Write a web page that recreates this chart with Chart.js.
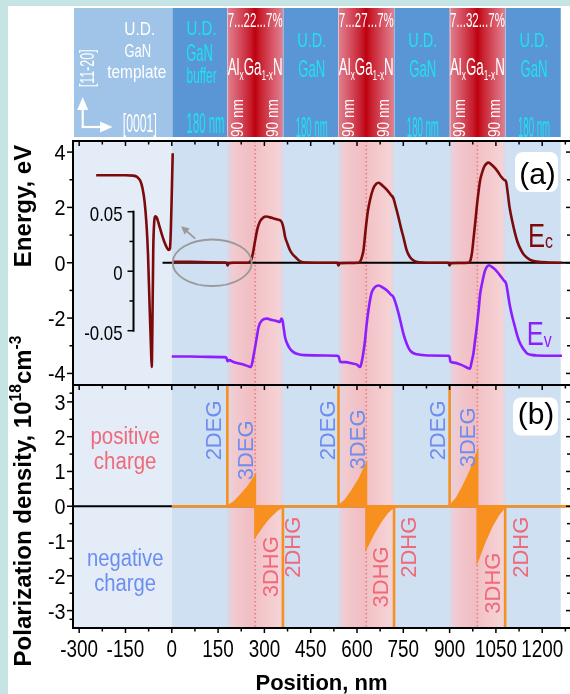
<!DOCTYPE html>
<html>
<head>
<meta charset="utf-8">
<script src="https://cdn.jsdelivr.net/npm/chart.js@4.4.1/dist/chart.umd.min.js"></script>
<style>
  html, body { margin: 0; padding: 0; background: #c6e4e4; }
  canvas { display: block; }
</style>
</head>
<body>
<canvas id="fig" width="570" height="694"></canvas>
<script>
// tick labels
const xTicks = [-300, -150, 0, 150, 300, 450, 600, 750, 900, 1050, 1200];
const eTicks = [4, 2, 0, -2, -4];
const pTicks = [3, 2, 1, 0, -1, -2, -3];
const insetTicks = [0.05, 0, -0.05];
const insetLabels = ['0.05', '0', '-0.05'];

// layer structure (nm)
const layerEdges = [0, 180, 360, 540, 720, 900, 1080, 1260];
const alganCenters = [270, 630, 990];
const alPercent = ['7...22...7%', '7...27...7%', '7...32...7%'];

// conduction band, left part (nm / eV)
const ecLeftNm = [-245, -200, -150, -125, -112, -102, -95, -88, -82, -77, -72, -67, -65, -62.5, -60, -57, -53, -49, -42, -33, -24, -16, -10, -6, -3, 0, 3];
const ecLeftEv = [3.16, 3.16, 3.16, 3.15, 3.1, 2.96, 2.7, 2.2, 1.4, 0.3, -1.5, -3.2, -3.77, -2.0, 0.5, 1.45, 1.68, 1.64, 1.4, 1.05, 0.75, 0.55, 0.46, 0.5, 1.2, 2.5, 3.96];

// conduction band, structure
const ecNm = [4, 60, 120, 172, 178, 181, 184, 200, 245, 252, 258, 263, 270, 278, 286, 296, 306, 318, 330, 342,
  352, 357, 362, 367, 375, 383, 392, 400, 416, 440, 500, 536, 540, 544, 570, 605, 612, 617, 621, 628,
  635, 642, 652, 662, 670, 683, 697, 710, 718, 726, 734, 742, 750, 761, 772, 785, 800, 860, 896, 900,
  904, 930, 962, 968, 973, 977, 983, 988, 994, 999, 1006, 1012, 1019, 1026, 1037, 1048, 1058, 1067, 1076, 1083,
  1088, 1094, 1103, 1112, 1120, 1129, 1140, 1150, 1166, 1182, 1220, 1264];
const ecEv = [0.03, 0.03, 0.02, 0.01, -0.02, -0.1, -0.02, 0, 0, 0.03, 0.12, 0.35, 0.8, 1.25, 1.5, 1.63, 1.67, 1.64, 1.6, 1.56,
  1.53, 1.45, 1.25, 0.94, 0.68, 0.45, 0.3, 0.21, 0.05, 0.01, 0, 0, -0.1, -0.02, -0.01, 0, 0.08, 0.25, 0.45, 1.2,
  1.85, 2.26, 2.66, 2.85, 2.89, 2.78, 2.63, 2.45, 2.33, 2.0, 1.66, 1.28, 0.94, 0.45, 0.2, 0.07, 0.02, 0, 0, -0.1,
  -0.02, -0.01, 0, 0.1, 0.4, 0.82, 1.45, 2.02, 2.6, 2.99, 3.28, 3.47, 3.58, 3.62, 3.53, 3.41, 3.26, 3.11, 3.0, 2.93,
  2.55, 2.02, 1.5, 1.06, 0.75, 0.51, 0.3, 0.19, 0.08, 0.04, 0.01, 0];

// valence band
const evNm = [0, 60, 120, 170, 177, 181, 186, 200, 232, 250, 256, 261, 265, 270, 276, 281, 292, 308, 325, 340,
  350, 355, 359, 363, 367, 375, 383, 393, 405, 430, 500, 536, 541, 545, 551, 563, 585, 600, 610, 615,
  620, 626, 631, 637, 643, 648, 658, 670, 684, 697, 710, 718, 724, 729, 735, 740, 750, 761, 769, 777,
  794, 830, 896, 900, 903, 913, 940, 966, 971, 977, 982, 988, 994, 999, 1006, 1012, 1019, 1028, 1038, 1048,
  1058, 1067, 1076, 1083, 1088, 1094, 1103, 1112, 1120, 1129, 1140, 1150, 1166, 1182, 1264];
const evEv = [-3.39, -3.39, -3.4, -3.41, -3.44, -3.56, -3.52, -3.59, -3.68, -3.75, -3.77, -3.6, -3.35, -3.05, -2.65, -2.33, -2.08, -2.02, -2.07, -2.11,
  -2.14, -2.02, -2.1, -2.4, -2.69, -2.95, -3.11, -3.22, -3.29, -3.34, -3.35, -3.36, -3.4, -3.57, -3.59, -3.59, -3.64, -3.68, -3.77, -3.6,
  -3.3, -2.81, -2.25, -1.72, -1.3, -1.06, -0.88, -0.82, -0.9, -1.0, -1.15, -1.24, -1.42, -1.6, -1.85, -2.08, -2.55, -2.93, -3.12, -3.23,
  -3.31, -3.35, -3.36, -3.4, -3.58, -3.61, -3.7, -3.83, -3.6, -3.29, -2.85, -2.33, -1.7, -1.12, -0.7, -0.39, -0.18, -0.09, -0.16, -0.25,
  -0.38, -0.51, -0.64, -0.75, -1.05, -1.48, -1.95, -2.33, -2.66, -2.93, -3.13, -3.27, -3.33, -3.35, -3.36];

// polarization charge, bulk (graded AlGaN) parts
const triUpNm = [[180, 203, 225, 248, 270, 270], [540, 563, 585, 608, 630, 630], [900, 923, 945, 968, 990, 990]];
const triUpP = [[0, 0.13, 0.33, 0.57, 0.87, 0], [0, 0.18, 0.46, 0.79, 1.2, 0], [0, 0.23, 0.59, 1.02, 1.55, 0]];
const triDnNm = [[270, 270, 293, 315, 338, 360], [630, 630, 653, 675, 698, 720], [990, 990, 1013, 1035, 1058, 1080]];
const triDnP = [[0, -0.87, -0.57, -0.33, -0.13, 0], [0, -1.2, -0.79, -0.46, -0.18, 0], [0, -1.57, -1.04, -0.6, -0.24, 0]];
// sheet charges
const sheetUpNm = [180, 540, 900];
const sheetDnNm = [360, 720, 1080];

const X_MIN = -320, X_MAX = 1290;
const E_MIN = -4.4, E_MAX = 4.4;
const P_MIN = -3.5, P_MAX = 3.5;

const FF = "'Liberation Sans', Arial, Helvetica, sans-serif";
const C = {
  teal: '#c6e4e4', light: '#e3ecf7', blue: '#cee0f2', ec: '#7d0a0a', ev: '#8c1eff', orange: '#f7901e',
  pos: '#f0697a', neg: '#6c8ef0', cyan: '#1ee3ee', tmpl: '#a0c4e8', gan: '#5a95d5'
};

const pts = (xs, ys) => xs.map((v, i) => ({x: v, y: ys[i]}));
const font = (size, bold) => (bold ? 'bold ' : '') + size + 'px ' + FF;

function put(ctx, s, x, y, o) {
  ctx.save();
  ctx.translate(x, y);
  if (o.rot) ctx.rotate(o.rot);
  ctx.font = font(o.size, o.bold);
  let sx = o.sx || 1;
  if (o.w) sx = o.w / ctx.measureText(s).width;
  ctx.scale(sx, 1);
  ctx.fillStyle = o.color || '#000';
  ctx.textAlign = o.align || 'center';
  ctx.textBaseline = 'alphabetic';
  ctx.fillText(s, 0, o.dy || 0);
  ctx.restore();
}

// text made of runs: [text, size factor, baseline shift factor]
function runs(ctx, parts, x, y, o) {
  ctx.save();
  ctx.translate(x, y);
  if (o.rot) ctx.rotate(o.rot);
  let total = 0;
  const widths = parts.map(p => {
    ctx.font = font(o.size * p[1], o.bold);
    const w = ctx.measureText(p[0]).width;
    total += w;
    return w;
  });
  const sx = o.w ? o.w / total : (o.sx || 1);
  ctx.scale(sx, 1);
  let cx = o.align === 'left' ? 0 : -total / 2;
  ctx.fillStyle = o.color || '#000';
  ctx.textAlign = 'left';
  ctx.textBaseline = 'alphabetic';
  parts.forEach((p, i) => {
    ctx.font = font(o.size * p[1], o.bold);
    ctx.fillText(p[0], cx, (o.dy || 0) + p[2] * o.size);
    cx += widths[i];
  });
  ctx.restore();
}

function seg(ctx, x1, y1, x2, y2) {
  ctx.beginPath();
  ctx.moveTo(x1, y1);
  ctx.lineTo(x2, y2);
  ctx.stroke();
}

function roundBox(ctx, l, t, w, h, r) {
  ctx.beginPath();
  ctx.moveTo(l + r, t);
  ctx.arcTo(l + w, t, l + w, t + h, r);
  ctx.arcTo(l + w, t + h, l, t + h, r);
  ctx.arcTo(l, t + h, l, t, r);
  ctx.arcTo(l, t, l + w, t, r);
  ctx.closePath();
  ctx.fill();
}

function drawBackdrop(chart) {
  const {ctx, chartArea: a, scales: {x}} = chart;
  const x0 = x.getPixelForValue(layerEdges[0]);
  const xEnd = x.getPixelForValue(layerEdges[layerEdges.length - 1]);
  const h = a.bottom - a.top;
  ctx.save();
  ctx.fillStyle = C.light;
  ctx.fillRect(a.left, a.top, x0 - a.left, h);
  ctx.fillStyle = C.blue;
  ctx.fillRect(x0, a.top, xEnd - x0, h);
  for (let i = 1; i < layerEdges.length - 1; i += 2) {
    const l = x.getPixelForValue(layerEdges[i]);
    const r = x.getPixelForValue(layerEdges[i + 1]);
    const g = ctx.createLinearGradient(l, 0, r, 0);
    g.addColorStop(0, '#dcd6e6');
    g.addColorStop(0.12, '#f1cacf');
    g.addColorStop(0.45, '#f1bdc2');
    g.addColorStop(0.62, '#f3c6ca');
    g.addColorStop(0.92, '#f5d2d5');
    g.addColorStop(1, '#e2d6e2');
    ctx.fillStyle = g;
    ctx.fillRect(l, a.top, r - l, h);
  }
  ctx.strokeStyle = '#e27c7c';
  ctx.lineWidth = 1.5;
  ctx.setLineDash([1.5, 2.5]);
  alganCenters.forEach(c => {
    const px = x.getPixelForValue(c);
    seg(ctx, px, a.top, px, a.bottom);
  });
  ctx.restore();
}

function drawFrame(chart) {
  const {ctx, chartArea: a, scales: {x, yE, yP, yI}} = chart;
  const mid = Math.round(yE.getPixelForValue(E_MIN));
  ctx.save();
  ctx.strokeStyle = '#000';
  ctx.lineWidth = 2;
  seg(ctx, a.left, a.top, a.right, a.top);
  seg(ctx, a.left, mid, a.right, mid);
  seg(ctx, a.left, a.bottom, a.right, a.bottom);
  seg(ctx, a.left, a.top - 1, a.left, a.bottom + 1);

  ctx.lineWidth = 1.5;
  // x ticks, major and half-step minor
  const xs = [];
  xTicks.forEach((v, i) => {
    xs.push([v, 5]);
    const next = i < xTicks.length - 1 ? xTicks[i + 1] : v + (v - xTicks[i - 1]);
    xs.push([(v + next) / 2, 3.5]);
  });
  xs.push([xTicks[0] - (xTicks[1] - xTicks[0]) / 2, 3.5]);
  xs.forEach(([v, len]) => {
    if (v < X_MIN || v > X_MAX) return;
    const px = x.getPixelForValue(v);
    seg(ctx, px, a.top, px, a.top + len);
    seg(ctx, px, mid, px, mid + len);
    seg(ctx, px, a.bottom, px, a.bottom + len);
  });
  // y ticks
  const yt = (scale, ticks) => {
    ticks.forEach((v, i) => {
      const py = scale.getPixelForValue(v);
      seg(ctx, a.left, py, a.left - 6, py);
      seg(ctx, a.right, py, a.right - 4, py);
      if (i < ticks.length - 1) {
        const pm = scale.getPixelForValue((v + ticks[i + 1]) / 2);
        seg(ctx, a.left, pm, a.left - 3.5, pm);
        seg(ctx, a.right, pm, a.right - 3, pm);
      }
    });
  };
  yt(yE, eTicks);
  yt(yP, pTicks);
  // half-step ticks next to the panel borders
  [(pTicks[0] + P_MAX) / 2, (pTicks[pTicks.length - 1] + P_MIN) / 2].forEach(v => {
    const py = yP.getPixelForValue(v);
    seg(ctx, a.left, py, a.left - 3.5, py);
  });

  // tick labels
  xTicks.forEach(v => put(ctx, String(v), x.getPixelForValue(v), 657, {size: 23, sx: 0.82}));
  eTicks.forEach(v => put(ctx, String(v), a.left - 7.5, yE.getPixelForValue(v) + 7.9, {size: 22, sx: 0.9, align: 'right'}));
  pTicks.forEach(v => put(ctx, String(v), a.left - 7.5, yP.getPixelForValue(v) + 7.9, {size: 22, sx: 0.9, align: 'right'}));

  // inset axis
  const ix = x.getPixelForValue(-124);
  const it = yI.getPixelForValue(insetTicks[0]);
  const ib = yI.getPixelForValue(insetTicks[insetTicks.length - 1]);
  ctx.lineWidth = 2;
  seg(ctx, ix, it - 1, ix, ib + 1);
  ctx.lineWidth = 1.5;
  insetTicks.forEach((v, i) => {
    const py = yI.getPixelForValue(v);
    seg(ctx, ix, py, ix - 6, py);
    if (i < insetTicks.length - 1) {
      const pm = yI.getPixelForValue((v + insetTicks[i + 1]) / 2);
      seg(ctx, ix, pm, ix - 4, pm);
    }
    put(ctx, insetLabels[i], ix - 11, py + 9, {size: 21, sx: 0.8, align: 'right'});
  });
  ctx.restore();
}

function drawNotes(chart) {
  const {ctx, chartArea: a, scales: {x, yE, yP}} = chart;
  const mid = yE.getPixelForValue(E_MIN);
  const R = -Math.PI / 2;
  ctx.save();

  // zoom ellipse and arrow
  const ecx = x.getPixelForValue(131), ecy = yE.getPixelForValue(0);
  ctx.strokeStyle = '#9a9a9a';
  ctx.lineWidth = 1.8;
  ctx.beginPath();
  ctx.ellipse(ecx, ecy, x.getPixelForValue(259) - ecx, ecy - yE.getPixelForValue(0.84), 0, 0, Math.PI * 2);
  ctx.stroke();
  const ax1 = x.getPixelForValue(76), ay1 = yE.getPixelForValue(0.87);
  const ax2 = x.getPixelForValue(30), ay2 = yE.getPixelForValue(1.32);
  seg(ctx, ax1, ay1, ax2 + 4, ay2 + 3.5);
  const ang = Math.atan2(ay2 - ay1, ax2 - ax1);
  ctx.fillStyle = '#9a9a9a';
  ctx.beginPath();
  ctx.moveTo(ax2, ay2);
  ctx.lineTo(ax2 - 9 * Math.cos(ang - 0.45), ay2 - 9 * Math.sin(ang - 0.45));
  ctx.lineTo(ax2 - 9 * Math.cos(ang + 0.45), ay2 - 9 * Math.sin(ang + 0.45));
  ctx.closePath();
  ctx.fill();

  // panel tags
  ctx.fillStyle = '#fff';
  roundBox(ctx, a.right - 55, a.top + 11, 43, 40, 8);
  roundBox(ctx, a.right - 57, mid + 13, 45, 38, 8);
  put(ctx, '(a)', a.right - 32.5, a.top + 42.5, {size: 30});
  put(ctx, '(b)', a.right - 34, mid + 39.5, {size: 30});

  // band labels
  runs(ctx, [['E', 1, 0], ['c', 0.62, 0.03]], x.getPixelForValue(1154), yE.getPixelForValue(0.57),
    {size: 34, w: 25, align: 'left', color: C.ec});
  runs(ctx, [['E', 1, 0], ['v', 0.62, 0.06]], x.getPixelForValue(1150), yE.getPixelForValue(-2.97),
    {size: 34, w: 25, align: 'left', color: C.ev});

  // charge labels
  const cx = x.getPixelForValue(-151);
  put(ctx, 'positive', cx, yP.getPixelForValue(1.8), {size: 23, sx: 0.89, color: C.pos});
  put(ctx, 'charge', cx, yP.getPixelForValue(1.06), {size: 23, sx: 0.89, color: C.pos});
  put(ctx, 'negative', cx, yP.getPixelForValue(-1.72), {size: 23, sx: 0.88, color: C.neg});
  put(ctx, 'charge', cx, yP.getPixelForValue(-2.44), {size: 23, sx: 0.88, color: C.neg});

  const v = (s, nm, p, color) => put(ctx, s, x.getPixelForValue(nm), yP.getPixelForValue(p),
    {size: 22, rot: R, dy: 7.9, color});
  [[135, 2.18], [502, 2.18], [859, 2.18]].forEach(q => v('2DEG', q[0], q[1], C.neg));
  [[237, 1.61], [600, 1.92], [956, 1.98]].forEach(q => v('3DEG', q[0], q[1], C.neg));
  [[389, -1.18], [767, -1.18], [1129, -1.18]].forEach(q => v('2DHG', q[0], q[1], C.pos));
  [[319, -1.74], [675, -2.03], [1037, -2.21]].forEach(q => v('3DHG', q[0], q[1], C.pos));
  ctx.restore();
}

function drawHeader(chart) {
  const {ctx, chartArea: a, scales: {x}} = chart;
  const top = 8, bot = 137;
  const R = -Math.PI / 2;
  const x0 = x.getPixelForValue(layerEdges[0]);
  ctx.save();
  ctx.fillStyle = C.tmpl;
  ctx.fillRect(a.left + 1, top, x0 - a.left - 1, bot - top);
  let k = 0;
  for (let i = 0; i < layerEdges.length - 1; i++) {
    const l = x.getPixelForValue(layerEdges[i]);
    const r = x.getPixelForValue(layerEdges[i + 1]);
    const c = (l + r) / 2;
    if (i % 2 === 1) {
      const g = ctx.createLinearGradient(l, 0, r, 0);
      g.addColorStop(0, '#dd8290');
      g.addColorStop(0.18, '#d85869');
      g.addColorStop(0.42, '#c61c2b');
      g.addColorStop(0.5, '#bf0010');
      g.addColorStop(0.6, '#c8222f');
      g.addColorStop(0.82, '#d85869');
      g.addColorStop(1, '#dd8290');
      ctx.fillStyle = g;
      ctx.fillRect(l, top, r - l, bot - top);
      put(ctx, alPercent[k], c, 27, {size: 21, w: 55, color: '#fff'});
      runs(ctx, [['Al', 1, 0], ['x', 0.62, 0.22], ['Ga', 1, 0], ['1-x', 0.62, 0.22], ['N', 1, 0]], c, 75,
        {size: 23.7, w: 55, color: '#fff'});
      put(ctx, '90 nm', l + 9.7, 118, {size: 16, w: 38, rot: R, dy: 5.7, color: '#fff'});
      put(ctx, '90 nm', r - 10.5, 118, {size: 16, w: 38, rot: R, dy: 5.7, color: '#fff'});
      k++;
    } else {
      ctx.fillStyle = C.gan;
      ctx.fillRect(l, top, r - l, bot - top);
      if (i === 0) {
        put(ctx, 'U.D.', c + 2, 35, {size: 21, w: 30, color: C.cyan});
        put(ctx, 'GaN', c, 60.7, {size: 24, w: 26.7, color: C.cyan});
        put(ctx, 'buffer', c + 2, 83, {size: 22, w: 30, color: C.cyan});
        put(ctx, '180 nm', c + 6, 133.3, {size: 29, w: 38, color: C.cyan});
      } else {
        put(ctx, 'U.D.', c + 1, 47, {size: 21, w: 29, color: C.cyan});
        put(ctx, 'GaN', c + 1, 77, {size: 24, w: 27, color: C.cyan});
        put(ctx, '180 nm', c + 1, 136.5, {size: 29, w: 32, color: C.cyan});
      }
    }
  }
  // thin block separators
  ctx.strokeStyle = 'rgba(255,255,255,0.35)';
  ctx.lineWidth = 1;
  layerEdges.forEach(e => {
    const px = Math.round(x.getPixelForValue(e)) + 0.5;
    seg(ctx, px, top, px, bot);
  });

  // template block
  put(ctx, 'U.D.', x0 - 32, 34.5, {size: 17.7, w: 31, color: '#fff'});
  put(ctx, 'GaN', x0 - 34, 56.7, {size: 18.8, w: 26.7, color: '#fff'});
  put(ctx, 'template', x0 - 35, 78, {size: 19, w: 59, color: '#fff'});
  put(ctx, '[0001]', x0 - 32, 131.5, {size: 26, w: 34, color: '#fff'});
  put(ctx, '[11-20]', 88.3, 68.3, {size: 21, w: 38, rot: R, dy: 5.5, color: '#fff'});
  // direction arrows
  ctx.strokeStyle = '#fff';
  ctx.fillStyle = '#fff';
  ctx.lineWidth = 2.2;
  seg(ctx, 82.7, 127, 82.7, 107);
  seg(ctx, 81.6, 127, 103, 127);
  ctx.beginPath();
  ctx.moveTo(82.7, 97); ctx.lineTo(77.2, 110); ctx.lineTo(88.2, 110); ctx.closePath(); ctx.fill();
  ctx.beginPath();
  ctx.moveTo(112.5, 127); ctx.lineTo(100, 121.5); ctx.lineTo(100, 132.5); ctx.closePath(); ctx.fill();
  ctx.restore();
}

function drawTitles(chart) {
  const {ctx, chartArea: a} = chart;
  const R = -Math.PI / 2;
  put(ctx, 'Energy, eV', 22.5, 206, {size: 24, bold: true, rot: R, dy: 8.6});
  runs(ctx, [['Polarization density, 10', 1, 0], ['18', 0.65, -0.42], ['cm', 1, 0], ['-3', 0.65, -0.42]],
    22.5, 501, {size: 24, bold: true, rot: R, dy: 8.6});
  put(ctx, 'Position, nm', (a.left + a.right) / 2, 690, {size: 22, bold: true});
}

const figurePlugin = {
  id: 'figure',
  beforeDraw(chart) {
    const ctx = chart.ctx;
    ctx.save();
    ctx.fillStyle = C.teal;
    ctx.fillRect(0, 0, chart.width, chart.height);
    ctx.fillStyle = '#fff';
    ctx.fillRect(8, 6, chart.width - 8, chart.height - 6);
    ctx.restore();
  },
  beforeDatasetsDraw(chart) { drawBackdrop(chart); },
  afterDatasetsDraw(chart) { drawFrame(chart); drawNotes(chart); },
  afterDraw(chart) { drawHeader(chart); drawTitles(chart); }
};

const sheetData = [];
sheetUpNm.forEach(v => sheetData.push({x: v, y: 0}, {x: v, y: P_MAX}, {x: v, y: null}));
sheetDnNm.forEach(v => sheetData.push({x: v, y: 0}, {x: v, y: P_MIN}, {x: v, y: null}));

const triangles = [];
for (let i = 0; i < triUpNm.length; i++) {
  triangles.push(pts(triUpNm[i], triUpP[i]), pts(triDnNm[i], triDnP[i]));
}

const datasets = [
  {data: pts([-30, X_MAX], [0, 0]), yAxisID: 'yE', borderColor: '#000', borderWidth: 2, order: 20},
  {data: pts([X_MIN, X_MAX], [0, 0]), yAxisID: 'yP', borderColor: '#000', borderWidth: 2, order: 20},
  ...triangles.map(t => ({data: t, yAxisID: 'yP', borderColor: C.orange, backgroundColor: C.orange,
    borderWidth: 2, fill: {value: 0}, order: 6})),
  {data: sheetData, yAxisID: 'yP', borderColor: C.orange, borderWidth: 2.6, order: 5},
  {data: pts([0, X_MAX], [0, 0]), yAxisID: 'yP', borderColor: C.orange, borderWidth: 2.6, order: 5},
  {data: pts(evNm, evEv), yAxisID: 'yE', borderColor: C.ev, borderWidth: 2.6, cubicInterpolationMode: 'monotone', order: 2},
  {data: pts(ecLeftNm, ecLeftEv), yAxisID: 'yE', borderColor: C.ec, borderWidth: 2.6, cubicInterpolationMode: 'monotone', order: 1},
  {data: pts(ecNm, ecEv), yAxisID: 'yE', borderColor: C.ec, borderWidth: 2.6, cubicInterpolationMode: 'monotone', order: 1}
];

new Chart(document.getElementById('fig'), {
  type: 'line',
  data: {datasets},
  options: {
    responsive: false,
    animation: false,
    devicePixelRatio: 1,
    layout: {padding: {left: 73, top: 141, right: 0, bottom: 66}},
    elements: {point: {radius: 0, hoverRadius: 0}, line: {fill: false}},
    plugins: {legend: {display: false}, tooltip: {enabled: false}},
    events: [],
    scales: {
      x: {type: 'linear', min: X_MIN, max: X_MAX, display: false},
      // the two panels share the canvas: each y scale spans twice its panel
      yE: {type: 'linear', min: E_MIN - (E_MAX - E_MIN), max: E_MAX, display: false},
      yP: {type: 'linear', min: P_MIN, max: P_MAX + (P_MAX - P_MIN), display: false},
      // inset scale of the zoomed region (0.05 eV per 59.5 px)
      yI: {type: 'linear', axis: 'y', min: -0.2998, max: 0.1094, display: false}
    }
  },
  plugins: [figurePlugin]
});
</script>
</body>
</html>
